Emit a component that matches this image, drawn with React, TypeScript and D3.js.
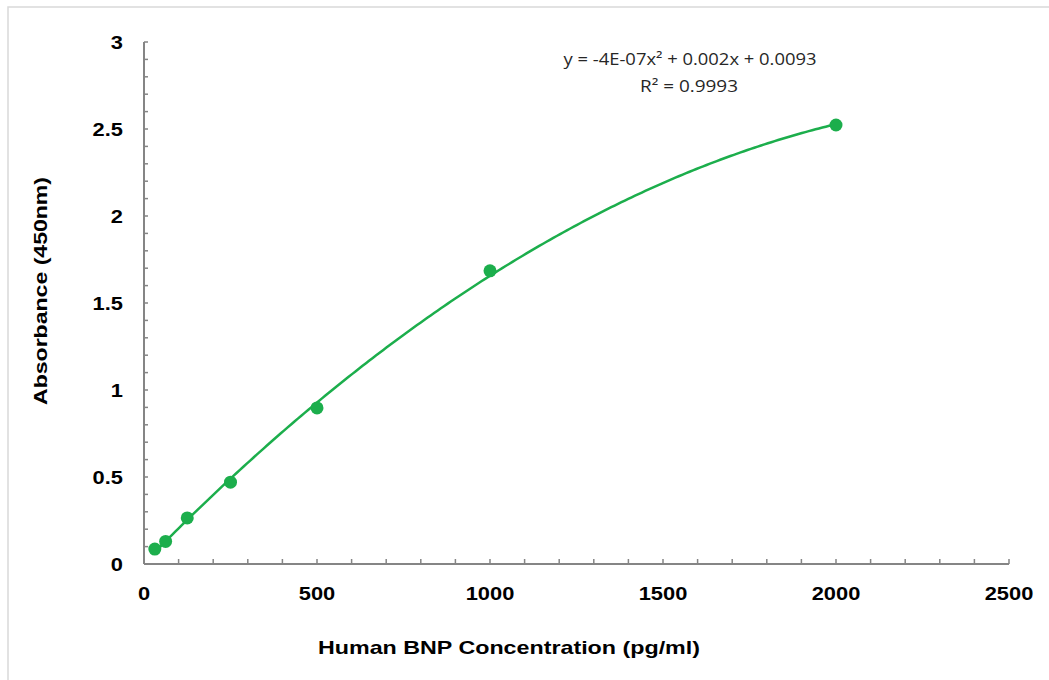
import React from "react";
import * as d3 from "d3";

const concentrations = [31.25, 62.5, 125, 250, 500, 1000, 2000];
const absorbance = [0.086, 0.13, 0.265, 0.47, 0.897, 1.685, 2.523];
const xMajorTicks = [0, 500, 1000, 1500, 2000, 2500];
const yMajorTicks = [0, 0.5, 1, 1.5, 2, 2.5, 3];
const equationLines = ["y = -4E-07x² + 0.002x + 0.0093", "R² = 0.9993"];
const xTitle = "Human BNP Concentration (pg/ml)";
const yTitle = "Absorbance (450nm)";

function fitQuadratic(xs: number[], ys: number[]) {
  // least squares y = a x^2 + b x + c
  const S = (f: (x: number, y: number) => number) => xs.reduce((s, x, i) => s + f(x, ys[i]), 0);
  const n = xs.length;
  const sx = S((x) => x), sx2 = S((x) => x * x), sx3 = S((x) => x ** 3), sx4 = S((x) => x ** 4);
  const sy = S((_, y) => y), sxy = S((x, y) => x * y), sx2y = S((x, y) => x * x * y);
  const M = [
    [sx4, sx3, sx2, sx2y],
    [sx3, sx2, sx, sxy],
    [sx2, sx, n, sy],
  ];
  for (let i = 0; i < 3; i++) {
    for (let k = i + 1; k < 3; k++) {
      const f = M[k][i] / M[i][i];
      for (let j = i; j < 4; j++) M[k][j] -= f * M[i][j];
    }
  }
  const r = [0, 0, 0];
  for (let i = 2; i >= 0; i--) {
    let s = M[i][3];
    for (let j = i + 1; j < 3; j++) s -= M[i][j] * r[j];
    r[i] = s / M[i][i];
  }
  return r;
}

export default function App() {
  const W = 1049, H = 680;
  const x = d3.scaleLinear().domain([0, 2500]).range([144, 1009]);
  const y = d3.scaleLinear().domain([0, 3]).range([564, 42]);
  const green = "#1cae4c";
  const axisColor = "#858585";
  const [a, b, c] = fitQuadratic(concentrations, absorbance);
  const xs0 = concentrations[0], xs1 = concentrations[concentrations.length - 1];
  const curvePts = d3.range(0, 201).map((i) => {
    const xv = xs0 + ((xs1 - xs0) * i) / 200;
    return [xv, a * xv * xv + b * xv + c] as [number, number];
  });
  const line = d3.line<[number, number]>().x((d) => x(d[0])).y((d) => y(d[1])).curve(d3.curveLinear);
  const xMinor = d3.range(0, 2501, 100);
  const yMinor = d3.range(0, 31).map((i) => i / 10);
  const tickFont = "'Liberation Sans', Arial, sans-serif";

  return (
    <svg width={W} height={H} style={{ position: "absolute", left: 0, top: 0 }}>
      <rect x={0} y={0} width={W} height={H} fill="#fff" />
      <rect x={8} y={7} width={1200} height={800} fill="#fff" stroke="#d9d9d9" strokeWidth={1.5} />
      {/* axes */}
      <line x1={x(0)} x2={x(0)} y1={y(3)} y2={y(0)} stroke={axisColor} strokeWidth={2} />
      <line x1={x(0)} x2={x(2500)} y1={y(0)} y2={y(0)} stroke={axisColor} strokeWidth={2} />
      {yMinor.map((v, i) => (
        <line key={"ym" + i} x1={x(0)} x2={x(0) + 4} y1={y(v)} y2={y(v)} stroke={axisColor} strokeWidth={1.5} />
      ))}
      {xMinor.map((v, i) => (
        <line key={"xm" + i} x1={x(v)} x2={x(v)} y1={y(0)} y2={y(0) - 5} stroke={axisColor} strokeWidth={1.5} />
      ))}
      {yMajorTicks.map((v) => (
        <text key={"yl" + v} x={123} y={y(v)} dy="0.35em" textAnchor="end" fontFamily={tickFont} fontWeight="bold" fontSize={19} fill="#000"
          transform={`translate(123,0) scale(1.15,1) translate(-123,0)`}>
          {String(v)}
        </text>
      ))}
      {xMajorTicks.map((v) => (
        <text key={"xl" + v} x={x(v)} y={593} dy="0.35em" textAnchor="middle" fontFamily={tickFont} fontWeight="bold" fontSize={19} fill="#000"
          transform={`translate(${x(v)},0) scale(1.15,1) translate(${-x(v)},0)`}>
          {String(v)}
        </text>
      ))}
      <text x={509} y={648} dy="0.35em" textAnchor="middle" fontFamily={tickFont} fontWeight="bold" fontSize={18.5} fill="#000"
        textLength={382} lengthAdjust="spacingAndGlyphs">
        {xTitle}
      </text>
      <text transform="translate(41,291) rotate(-90)" dy="0.35em" textAnchor="middle" fontFamily={tickFont} fontWeight="bold" fontSize={18.5} fill="#000"
        textLength={228} lengthAdjust="spacingAndGlyphs">
        {yTitle}
      </text>
      {/* trendline */}
      <path d={line(curvePts) || ""} fill="none" stroke={green} strokeWidth={2.5} />
      {concentrations.map((cv, i) => (
        <circle key={"p" + i} cx={x(cv)} cy={y(absorbance[i])} r={6.5} fill={green} />
      ))}
      {/* equation */}
      <text x={690} y={65} textAnchor="middle" fontFamily="'Open Sans', sans-serif" fontSize={16.5} fill="#262626" textLength={253} lengthAdjust="spacingAndGlyphs">
        {equationLines[0]}
      </text>
      <text x={689} y={92} textAnchor="middle" fontFamily="'Open Sans', sans-serif" fontSize={16.5} fill="#262626" textLength={98} lengthAdjust="spacingAndGlyphs">
        {equationLines[1]}
      </text>
    </svg>
  );
}
